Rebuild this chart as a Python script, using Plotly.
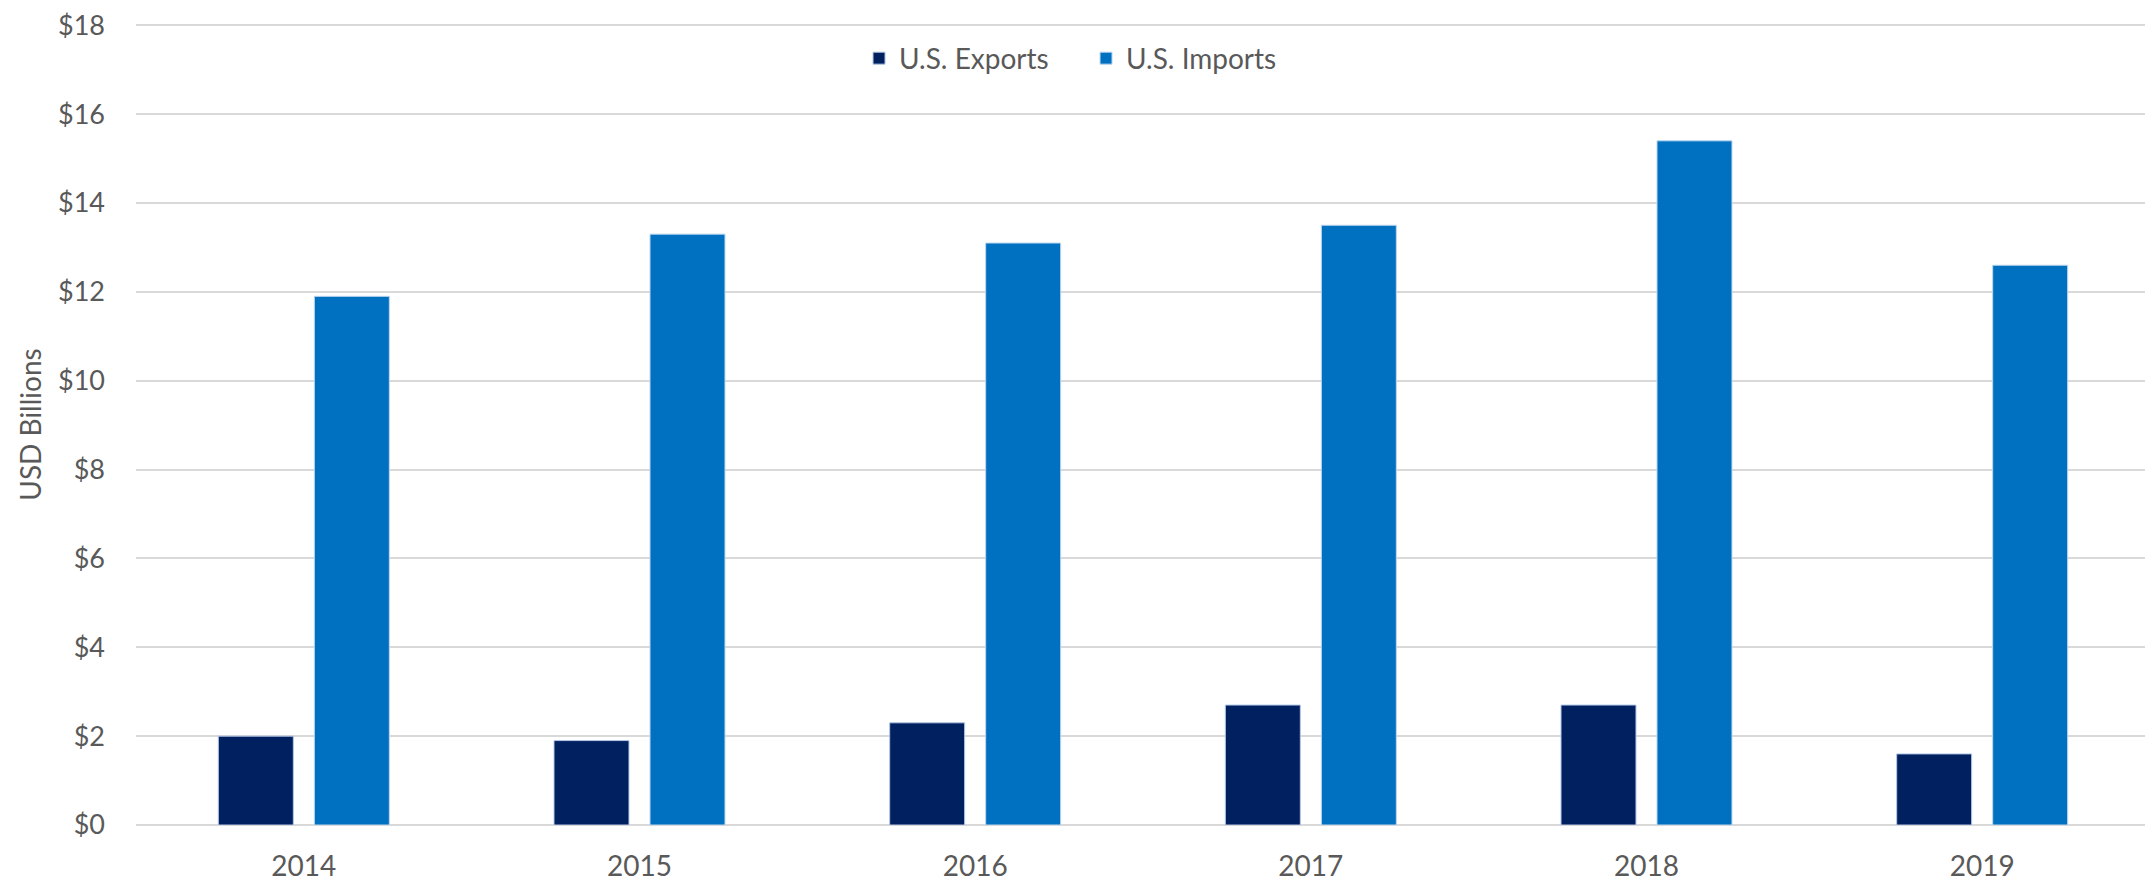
import plotly.graph_objects as go

years = ["2014", "2015", "2016", "2017", "2018", "2019"]
exports = [2.0, 1.9, 2.3, 2.7, 2.7, 1.6]
imports = [11.9, 13.3, 13.1, 13.5, 15.4, 12.6]
tick_vals = [0, 2, 4, 6, 8, 10, 12, 14, 16, 18]
tick_text = ["$" + str(v) for v in tick_vals]

FONT = "Lato, Carlito, Liberation Sans, sans-serif"
GRAY = "#595959"

fig = go.Figure()
fig.add_trace(go.Bar(name="U.S. Exports", x=years, y=exports,
                     marker=dict(color="#002060", line=dict(color="#b4c7e7", width=1))))
fig.add_trace(go.Bar(name="U.S. Imports", x=years, y=imports,
                     marker=dict(color="#0070C0", line=dict(color="#bdd7ee", width=1))))

fig.update_layout(
    width=2145, height=873,
    margin=dict(l=128, r=3, t=16, b=56),
    paper_bgcolor="white", plot_bgcolor="white",
    font=dict(family=FONT, size=28, color=GRAY),
    barmode="group", bargap=0.428, bargroupgap=0.219,
    showlegend=True,
    legend=dict(orientation="h", x=0.359, xanchor="left", y=0.957, yanchor="middle",
                entrywidth=182,
                font=dict(size=28, color=GRAY), bgcolor="rgba(0,0,0,0)"),
    xaxis=dict(showgrid=False, showline=False, ticks="", ticklabelstandoff=22,
               automargin=False,
               tickfont=dict(size=28, color=GRAY)),
    yaxis=dict(range=[0, 18.03], tickvals=tick_vals, ticktext=tick_text,
               showgrid=True, gridcolor="#d9d9d9", gridwidth=1.5,
               zeroline=True, zerolinecolor="#d9d9d9", zerolinewidth=1.5,
               showline=False, ticks="", ticklabelstandoff=30,
               automargin=False, ticklabeloverflow="allow",
               tickfont=dict(size=27, color=GRAY),
               title=dict(text="USD Billions", standoff=8, font=dict(size=28, color=GRAY))),
)

fig.write_html("out.html")
